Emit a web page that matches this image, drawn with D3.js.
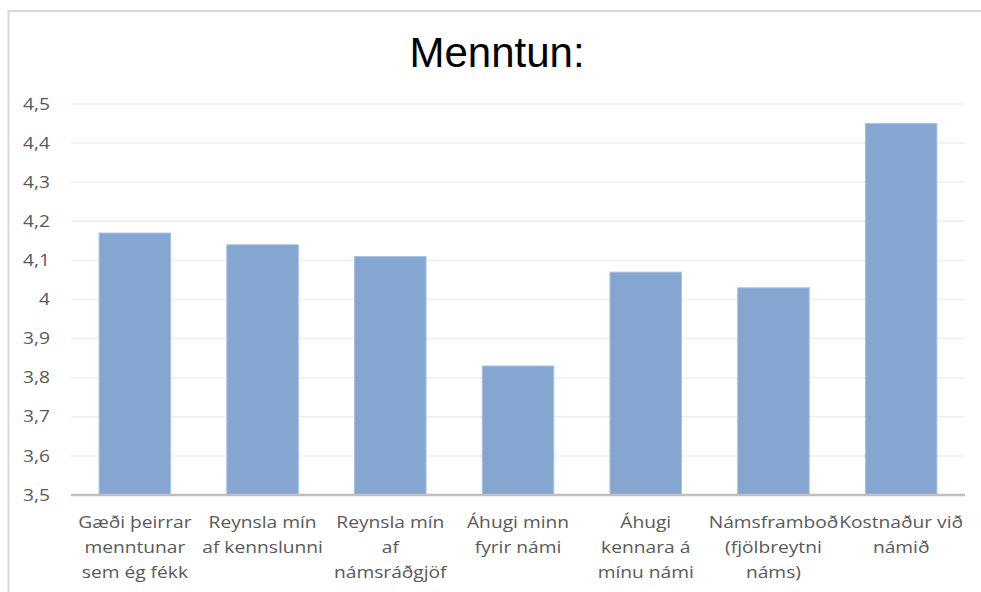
<!DOCTYPE html>
<html>
<head>
<meta charset="utf-8">
<script src="https://cdn.jsdelivr.net/npm/d3@7"></script>
<style>
  html, body { margin: 0; padding: 0; background: #fff; }
  svg { display: block; }
</style>
</head>
<body>
<svg id="chart" width="981" height="592"></svg>
<script>
const title = "Menntun:";
const categories = [
  ["Gæði þeirrar", "menntunar", "sem ég fékk"],
  ["Reynsla mín", "af kennslunni"],
  ["Reynsla mín", "af", "námsráðgjöf"],
  ["Áhugi minn", "fyrir námi"],
  ["Áhugi", "kennara á", "mínu námi"],
  ["Námsframboð", "(fjölbreytni", "náms)"],
  ["Kostnaður við", "námið"]
];
const values = [4.17, 4.14, 4.11, 3.83, 4.07, 4.03, 4.45];
const yTicks = [3.5, 3.6, 3.7, 3.8, 3.9, 4.0, 4.1, 4.2, 4.3, 4.4, 4.5];
const yDomain = [3.5, 4.5];

const svg = d3.select("#chart");
const W = 981, H = 592;
const m = { left: 71, right: 16, top: 104, bottom: 97 };
const FONT = "'Open Sans', 'Liberation Sans', sans-serif";
const SX = 1.2;

// frame
svg.append("line").attr("x1", 8.5).attr("x2", 8.5).attr("y1", 10).attr("y2", H)
  .attr("stroke", "#d9d9d9").attr("stroke-width", 2);
svg.append("line").attr("x1", 8).attr("x2", W).attr("y1", 11).attr("y2", 11)
  .attr("stroke", "#d9d9d9").attr("stroke-width", 2);

const x = d3.scaleBand().domain(d3.range(categories.length))
  .range([m.left, W - m.right]).paddingInner(0.44).paddingOuter(0.22);
const y = d3.scaleLinear().domain(yDomain).range([H - m.bottom, m.top]);

// gridlines
svg.append("g").selectAll("line").data(yTicks.slice(1)).join("line")
  .attr("x1", m.left).attr("x2", W - m.right)
  .attr("y1", d => y(d)).attr("y2", d => y(d))
  .attr("stroke", "#eeeeee").attr("stroke-width", 1.5);

// y axis labels
const yAxis = d3.axisLeft(y).tickValues(yTicks).tickSize(0).tickPadding(0)
  .tickFormat(d => String(+d.toFixed(1)).replace(".", ","));
const gy = svg.append("g").attr("transform", `translate(${50},0) scale(${SX},1)`).call(yAxis);
gy.select(".domain").remove();
gy.selectAll("text").attr("font-family", FONT)
  .attr("font-size", 16).attr("fill", "#595959");

// bars
svg.append("g").selectAll("rect").data(values).join("rect")
  .attr("x", (d, i) => x(i)).attr("width", x.bandwidth())
  .attr("y", d => y(d)).attr("height", d => y(yDomain[0]) - y(d))
  .attr("fill", "#84a6d1").attr("stroke", "#a9c2e2").attr("stroke-width", 1);

// x axis line
svg.append("line").attr("x1", m.left).attr("x2", W - m.right)
  .attr("y1", y(yDomain[0])).attr("y2", y(yDomain[0]))
  .attr("stroke", "#bfbfbf").attr("stroke-width", 2.5);

// x labels
const lab = svg.append("g").selectAll("text").data(categories).join("text")
  .attr("transform", (d, i) => `translate(${x(i) + x.bandwidth() / 2},0) scale(${SX},1)`)
  .attr("text-anchor", "middle")
  .attr("font-family", FONT)
  .attr("font-size", 16).attr("fill", "#595959");
lab.each(function(d) {
  const t = d3.select(this);
  d.forEach((line, k) => {
    t.append("tspan").attr("x", 0).attr("y", 528 + k * 25).text(line);
  });
});

// title
svg.append("text").attr("x", 497).attr("y", 67).attr("text-anchor", "middle")
  .attr("font-family", "'Liberation Sans', Arial, sans-serif")
  .attr("font-size", 42).attr("fill", "#000").text(title);
</script>
</body>
</html>
